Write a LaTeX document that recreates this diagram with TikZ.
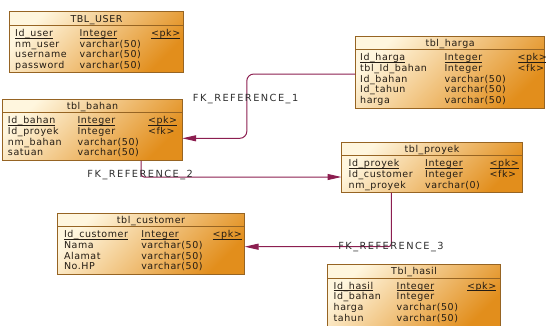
\documentclass[tikz,border=0pt]{standalone}
\usepackage{fontspec}
\usetikzlibrary{arrows.meta}

\newfontfamily\erdfont{DejaVu Sans}[LetterSpace=6]
\newfontfamily\fkfont{DejaVu Sans}[LetterSpace=15]

\definecolor{tblborder}{RGB}{150,100,35}
\definecolor{tbltop}{RGB}{255,246,222}
\definecolor{tblmid}{RGB}{244,198,115}
\definecolor{tblbottom}{RGB}{226,142,28}
\definecolor{tbltext}{RGB}{35,28,20}
\definecolor{fkred}{RGB}{140,30,80}
\definecolor{fktext}{RGB}{45,45,45}

% key columns get a thin rule just under the baseline
\newcommand\pkline[1]{\setbox0\hbox{#1}\rlap{\vrule height -1.3pt depth 1.9pt width \wd0}\box0}

\begin{document}
\begin{tikzpicture}[x=1pt, y=-1pt]
        \def\headsep{13.5pt}
        \tikzstyle{erdtable}=[draw=tblborder, line width=0.8pt, top color=tbltop, middle color=tblmid, bottom color=tblbottom, shading angle=45, anchor=north west, inner sep=0pt, outer sep=0pt]
        \tikzstyle{tblhead}=[anchor=base, inner sep=0pt, text=tbltext, font=\erdfont\fontsize{9.5}{10}\selectfont]
        \tikzstyle{tblcell}=[anchor=base west, inner sep=0pt, text=tbltext, font=\erdfont\fontsize{9.5}{10}\selectfont]
        \tikzstyle{tblsep}=[draw=tblborder, line width=0.6pt]
        \tikzstyle{fkline}=[draw=fkred, line width=1pt, -{Triangle[length=14pt, width=6pt]}]
        \tikzstyle{fklabel}=[inner sep=0pt, text=fktext, font=\fkfont\fontsize{9.8}{10}\selectfont]

        \useasboundingbox (0,0) rectangle (546,325);

        % TBL_USER
        \node[erdtable, minimum width=174.2pt, minimum height=61pt] (user) at (9.4,11.7) {};
        \node[tblhead] (user-head) at ([yshift=-10.3pt]user.north) {TBL\_USER};
        \draw[tblsep] ([yshift=-\headsep]user.north west) -- ([yshift=-\headsep]user.north east);
        \foreach \name/\type [count=\i] in {\pkline{Id\_user}/\pkline{Integer}, nm\_user/varchar(50), username/varchar(50), password/varchar(50)} {
            \node[tblcell] (user-\i) at ([xshift=5.6pt, yshift={-24.5pt-(\i-1)*10.8pt}]user.north west) {\name};
            \node[tblcell] (user-\i-t) at ([xshift=70pt, yshift={-24.5pt-(\i-1)*10.8pt}]user.north west) {\type};
        }
        \node[tblcell] (user-pk) at ([xshift=141.5pt, yshift=-24.5pt]user.north west) {\pkline{<pk>}};

        % tbl_harga
        \node[erdtable, minimum width=189.4pt, minimum height=72pt] (harga) at (355.4,36) {};
        \node[tblhead] (harga-head) at ([yshift=-10.3pt]harga.north) {tbl\_harga};
        \draw[tblsep] ([yshift=-\headsep]harga.north west) -- ([yshift=-\headsep]harga.north east);
        \foreach \name/\type [count=\i] in {\pkline{Id\_harga}/\pkline{Integer}, tbl\_Id\_bahan/Integer, Id\_bahan/varchar(50), Id\_tahun/varchar(50), harga/varchar(50)} {
            \node[tblcell] (harga-\i) at ([xshift=4.6pt, yshift={-24.5pt-(\i-1)*10.8pt}]harga.north west) {\name};
            \node[tblcell] (harga-\i-t) at ([xshift=89pt, yshift={-24.5pt-(\i-1)*10.8pt}]harga.north west) {\type};
        }
        \node[tblcell] (harga-pk) at ([xshift=162pt, yshift=-24.5pt]harga.north west) {\pkline{<pk>}};
        \node[tblcell] (harga-fk) at ([xshift=162pt, yshift=-35.3pt]harga.north west) {<fk>};

        % tbl_bahan
        \node[erdtable, minimum width=179.4pt, minimum height=61.5pt] (bahan) at (2.8,99) {};
        \node[tblhead] (bahan-head) at ([yshift=-10.3pt]bahan.north) {tbl\_bahan};
        \draw[tblsep] ([yshift=-\headsep]bahan.north west) -- ([yshift=-\headsep]bahan.north east);
        \foreach \name/\type [count=\i] in {\pkline{Id\_bahan}/\pkline{Integer}, Id\_proyek/Integer, nm\_bahan/varchar(50), satuan/varchar(50)} {
            \node[tblcell] (bahan-\i) at ([xshift=5pt, yshift={-24.5pt-(\i-1)*10.8pt}]bahan.north west) {\name};
            \node[tblcell] (bahan-\i-t) at ([xshift=74.6pt, yshift={-24.5pt-(\i-1)*10.8pt}]bahan.north west) {\type};
        }
        \node[tblcell] (bahan-pk) at ([xshift=145pt, yshift=-24.5pt]bahan.north west) {\pkline{<pk>}};
        \node[tblcell] (bahan-fk) at ([xshift=145pt, yshift=-35.3pt]bahan.north west) {<fk>};

        % tbl_proyek
        \node[erdtable, minimum width=181pt, minimum height=50.5pt] (proyek) at (341.5,142) {};
        \node[tblhead] (proyek-head) at ([yshift=-10.3pt]proyek.north) {tbl\_proyek};
        \draw[tblsep] ([yshift=-\headsep]proyek.north west) -- ([yshift=-\headsep]proyek.north east);
        \foreach \name/\type [count=\i] in {\pkline{Id\_proyek}/\pkline{Integer}, Id\_customer/Integer, nm\_proyek/varchar(0)} {
            \node[tblcell] (proyek-\i) at ([xshift=7pt, yshift={-24.5pt-(\i-1)*10.8pt}]proyek.north west) {\name};
            \node[tblcell] (proyek-\i-t) at ([xshift=83.5pt, yshift={-24.5pt-(\i-1)*10.8pt}]proyek.north west) {\type};
        }
        \node[tblcell] (proyek-pk) at ([xshift=148pt, yshift=-24.5pt]proyek.north west) {\pkline{<pk>}};
        \node[tblcell] (proyek-fk) at ([xshift=148pt, yshift=-35.3pt]proyek.north west) {<fk>};

        % tbl_customer
        \node[erdtable, minimum width=187pt, minimum height=61.5pt] (customer) at (57.5,213) {};
        \node[tblhead] (customer-head) at ([yshift=-10.3pt]customer.north) {tbl\_customer};
        \draw[tblsep] ([yshift=-\headsep]customer.north west) -- ([yshift=-\headsep]customer.north east);
        \foreach \name/\type [count=\i] in {\pkline{Id\_customer}/\pkline{Integer}, Nama/varchar(50), Alamat/varchar(50), No.HP/varchar(50)} {
            \node[tblcell] (customer-\i) at ([xshift=6.3pt, yshift={-24.5pt-(\i-1)*10.8pt}]customer.north west) {\name};
            \node[tblcell] (customer-\i-t) at ([xshift=83.6pt, yshift={-24.5pt-(\i-1)*10.8pt}]customer.north west) {\type};
        }
        \node[tblcell] (customer-pk) at ([xshift=155pt, yshift=-24.5pt]customer.north west) {\pkline{<pk>}};

        % Tbl_hasil (runs past the lower edge)
        \node[erdtable, minimum width=173.2pt, minimum height=64pt] (hasil) at (327.5,264.5) {};
        \node[tblhead] (hasil-head) at ([yshift=-10.3pt]hasil.north) {Tbl\_hasil};
        \draw[tblsep] ([yshift=-\headsep]hasil.north west) -- ([yshift=-\headsep]hasil.north east);
        \foreach \name/\type [count=\i] in {\pkline{Id\_hasil}/\pkline{Integer}, Id\_bahan/Integer, harga/varchar(50), tahun/varchar(50)} {
            \node[tblcell] (hasil-\i) at ([xshift=6pt, yshift={-24.5pt-(\i-1)*10.8pt}]hasil.north west) {\name};
            \node[tblcell] (hasil-\i-t) at ([xshift=69pt, yshift={-24.5pt-(\i-1)*10.8pt}]hasil.north west) {\type};
        }
        \node[tblcell] (hasil-pk) at ([xshift=139.4pt, yshift=-24.5pt]hasil.north west) {\pkline{<pk>}};

        % references
        \draw[fkline, rounded corners=7pt] ([yshift=-38pt]harga.north west) -| ([xshift=244pt]bahan.north west) |- ([yshift=-39.3pt]bahan.north east);
        \draw[fkline, rounded corners=3pt] ([xshift=138.3pt]bahan.south west) |- ([yshift=-35pt]proyek.north west);
        \draw[fkline, rounded corners=3pt] ([xshift=49.8pt]proyek.south west) |- ([yshift=-33.7pt]customer.north east);

        \node[fklabel] (fk1) at (245.6,98.7) {FK\_REFERENCE\_1};
        \node[fklabel] (fk2) at (140.2,175.5) {FK\_REFERENCE\_2};
        \node[fklabel] (fk3) at (391,246.7) {FK\_REFERENCE\_3};
\end{tikzpicture}
\end{document}
